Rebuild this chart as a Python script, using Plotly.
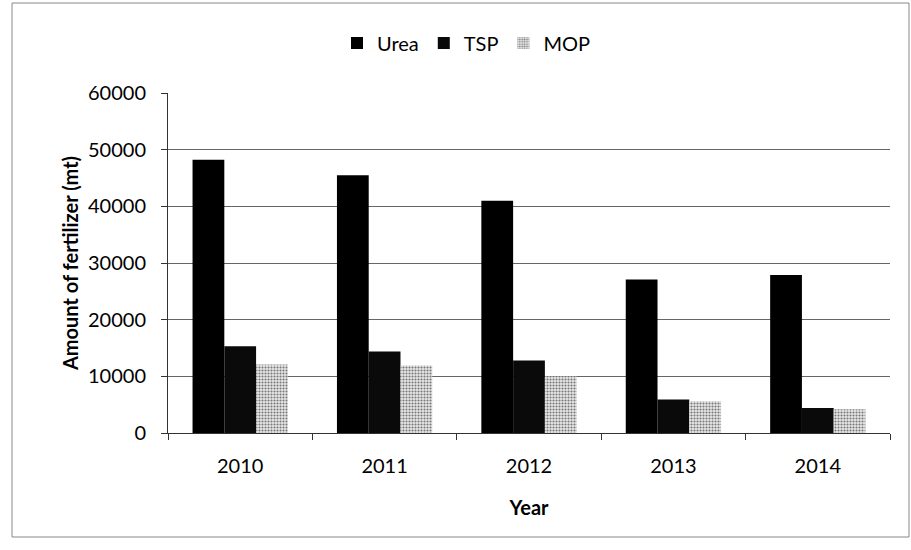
import plotly.graph_objects as go

years = ["2010", "2011", "2012", "2013", "2014"]
urea = [48200, 45500, 41000, 27100, 27900]
tsp = [15300, 14400, 12800, 5900, 4400]
mop = [12100, 11900, 10000, 5600, 4200]
y_ticks = [0, 10000, 20000, 30000, 40000, 50000, 60000]

FONT = "Lato"

fig = go.Figure()
fig.add_trace(go.Bar(name="Urea", x=years, y=urea, marker=dict(color="black", line=dict(width=0))))
fig.add_trace(go.Bar(name="TSP", x=years, y=tsp, marker=dict(color="#0a0a0a", line=dict(width=0))))
fig.add_trace(go.Bar(name="MOP", x=years, y=mop,
                     marker=dict(color="#d9d9d9", line=dict(width=0),
                                 pattern=dict(shape=".", fgcolor="#777777", bgcolor="#e8e8e8",
                                              size=3, solidity=0.4, fillmode="replace"))))

L, R, T, B = 168, 21, 93, 117
W, H = 911, 550
pw = W - L - R
ph = H - T - B

fig.update_layout(
    width=W, height=H,
    margin=dict(l=L, r=R, t=T, b=B, pad=0, autoexpand=False),
    paper_bgcolor="white", plot_bgcolor="white",
    barmode="group", bargap=0.34, bargroupgap=0,
    font=dict(family=FONT, size=20, color="black"),
    legend=dict(orientation="h", x=(466 - L) / pw, xanchor="center",
                y=1 + 50 / ph, yanchor="middle",
                font=dict(family=FONT, size=20, color="black"),
                itemwidth=30, traceorder="normal", bgcolor="rgba(0,0,0,0)"),
    showlegend=True,
)

fig.update_xaxes(
    type="category", automargin=False,
    showline=True, linecolor="#333", linewidth=1,
    ticks="outside", tickson="boundaries", ticklen=6, tickcolor="#333",
    ticklabelstandoff=15,
    tickfont=dict(family=FONT, size=20, color="black"),
    title=dict(text="<b>Year</b>", font=dict(family=FONT, size=20, color="black"), standoff=24),
    showgrid=False, zeroline=False,
)

fig.update_yaxes(
    range=[0, 60000], tickvals=y_ticks, ticktext=[str(v) for v in y_ticks],
    automargin=False,
    showline=True, linecolor="#333", linewidth=1,
    ticks="outside", ticklen=6, tickcolor="#333",
    ticklabelstandoff=11,
    tickfont=dict(family=FONT, size=20, color="black"),
    showgrid=True, gridcolor="#666", gridwidth=1,
    zeroline=False,
    title=dict(text="<b>Amount of fertilizer (mt)</b>", font=dict(family=FONT, size=20, color="black"), standoff=4),
)

fig.add_shape(type="rect", xref="paper", yref="paper",
              x0=(12 - L) / pw, x1=(909 - L) / pw,
              y0=-(537 - (H - B)) / ph, y1=((H - B) - 3) / ph,
              line=dict(color="#888", width=1), fillcolor="rgba(0,0,0,0)", layer="below")

fig.write_html("out.html", config={"displayModeBar": False},
               post_script="document.body.style.margin='0';")
